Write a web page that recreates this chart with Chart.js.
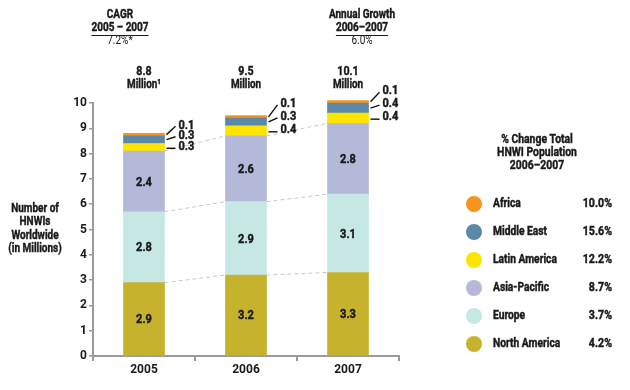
<!DOCTYPE html>
<html>
<head>
<meta charset="utf-8">
<script src="https://cdn.jsdelivr.net/npm/chart.js@4.4.0/dist/chart.umd.min.js"></script>
<style>
  html, body { margin: 0; padding: 0; background: #fff; }
  #wrap { width: 630px; height: 390px; position: relative; }
</style>
</head>
<body>
<div id="wrap"><canvas id="hnwiChart" width="630" height="390"></canvas></div>
<script>
// Data
const years = ['2005', '2006', '2007'];
const northAmerica = [2.9, 3.2, 3.3];
const europe = [2.8, 2.9, 3.1];
const asiaPacific = [2.4, 2.6, 2.8];
const latinAmerica = [0.3, 0.4, 0.4];
const middleEast = [0.3, 0.3, 0.4];
const africa = [0.1, 0.1, 0.1];
const totals = ['8.8', '9.5', '10.1'];
const totalUnits = ['Million\u00B9', 'Million', 'Million'];
const yTicks = [0, 1, 2, 3, 4, 5, 6, 7, 8, 9, 10];

// legend (top to bottom) and % change 2006-2007
const legendRegions = ['Africa', 'Middle East', 'Latin America', 'Asia-Pacific', 'Europe', 'North America'];
const legendChange = ['10.0%', '15.6%', '12.2%', '8.7%', '3.7%', '4.2%'];

const FONT = 'Roboto, "DejaVu Sans", sans-serif';
const TXT = '#1a1a1a';

const colors = {
    'North America': '#C6B22D',
    'Europe': '#C6E8E4',
    'Asia-Pacific': '#B4B9DA',
    'Latin America': '#FFE400',
    'Middle East': '#5B88A6',
    'Africa': '#F7941E'
};

const seriesList = [
    ['North America', northAmerica],
    ['Europe', europe],
    ['Asia-Pacific', asiaPacific],
    ['Latin America', latinAmerica],
    ['Middle East', middleEast],
    ['Africa', africa]
];

// the original uses a heavy condensed face: squeeze roboto and thicken it a bit
function heavyText(c, t, x, y, size, k, bold = true) {
    c.save();
    c.font = (bold ? 'bold ' : '') + size + 'px ' + FONT;
    c.translate(x, y);
    c.scale(k, 1);
    c.fillText(t, 0, 0);
    if (bold) {
        c.lineWidth = 0.45;
        c.strokeStyle = c.fillStyle;
        c.strokeText(t, 0, 0);
    }
    const w = c.measureText(t).width * k;
    c.restore();
    return w;
}

// Draws all the annotation text, leader lines, connectors and the legend
const annotations = {
    id: 'annotations',
    afterDatasetsDraw(chart) {
        const c = chart.ctx;
        const metas = seriesList.map((s, i) => chart.getDatasetMeta(i));
        c.save();

        // dashed connectors between bars (tops of NA, Europe, Asia-Pacific)
        c.strokeStyle = '#c8c8c8';
        c.lineWidth = 1;
        c.setLineDash([4, 3]);
        for (let d = 0; d < 3; d++) {
            for (let i = 0; i < years.length - 1; i++) {
                const a = metas[d].data[i], b = metas[d].data[i + 1];
                c.beginPath();
                c.moveTo(a.x + a.width / 2, a.y);
                c.lineTo(b.x - b.width / 2, b.y);
                c.stroke();
            }
        }
        c.setLineDash([]);

        // values inside the big segments
        c.fillStyle = TXT;
        c.textAlign = 'center';
        c.textBaseline = 'middle';
        for (let d = 0; d < 3; d++) {
            metas[d].data.forEach((el, i) => {
                heavyText(c, seriesList[d][1][i].toFixed(1), el.x, (el.y + el.base) / 2 + 1, 13, 0.85);
            });
        }

        // small segment labels with leader lines
        const gaps = [10.5, 13, 13];
        c.textAlign = 'left';
        years.forEach((y, i) => {
            const la = metas[3].data[i];
            const baseY = (la.y + la.base) / 2 - 1;
            for (let k = 0; k < 3; k++) {
                const el = metas[3 + k].data[i];
                const segY = (el.y + el.base) / 2;
                const labY = baseY - k * gaps[i];
                const x0 = el.x + el.width / 2 + 2;
                c.strokeStyle = '#111';
                c.lineWidth = 1.4;
                c.beginPath();
                c.moveTo(x0, k === 0 ? labY + 2 : segY);
                c.lineTo(x0 + 9, k === 0 ? labY + 2 : labY + 1);
                c.stroke();
                heavyText(c, seriesList[3 + k][1][i].toFixed(1), x0 + 12, labY, 13, 0.85);
            }
        });

        // totals above bars
        c.textAlign = 'center';
        metas[0].data.forEach((el, i) => {
            heavyText(c, totals[i], el.x, 72, 13, 0.82);
            heavyText(c, totalUnits[i], el.x, 85, 13, 0.76);
        });

        // header texts
        const header = (x, lines) => {
            lines.forEach((t, j) => {
                const yy = 15 + j * 13;
                const w = heavyText(c, t, x, yy, 12.5, 0.8, j !== 2);
                if (j === 1) {
                    c.beginPath();
                    c.strokeStyle = TXT;
                    c.lineWidth = 1;
                    c.moveTo(x - w / 2, yy + 7.5);
                    c.lineTo(x + w / 2, yy + 7.5);
                    c.stroke();
                }
            });
        };
        header(120, ['CAGR', '2005 \u2013 2007', '7.2%*']);
        header(362, ['Annual Growth', '2006\u20132007', '6.0%']);

        // y axis title
        ['Number of', 'HNWIs', 'Worldwide', '(in Millions)'].forEach((t, j) => {
            heavyText(c, t, 35, 209 + j * 13.3, 12.5, 0.8);
        });

        // legend
        ['% Change Total', 'HNWI Population', '2006\u20132007'].forEach((t, j) => {
            heavyText(c, t, 537, 140 + j * 13, 13, 0.8);
        });
        legendRegions.forEach((r, j) => {
            const yy = 204 + j * 28;
            c.fillStyle = colors[r];
            c.beginPath();
            c.arc(474, yy, 8, 0, Math.PI * 2);
            c.fill();
            c.fillStyle = TXT;
            c.textAlign = 'left';
            heavyText(c, r, 493, yy, 12.5, 0.82);
            c.textAlign = 'right';
            heavyText(c, legendChange[j], 612, yy, 12.5, 0.85);
            c.textAlign = 'center';
        });

        c.restore();
    }
};

new Chart(document.getElementById('hnwiChart'), {
    type: 'bar',
    data: {
        labels: years,
        datasets: seriesList.map(([name, values]) => ({
            label: name,
            data: values,
            backgroundColor: colors[name],
            borderWidth: 0,
            barThickness: 41,
            clip: false
        }))
    },
    options: {
        responsive: false,
        animation: false,
        devicePixelRatio: 1,
        layout: { padding: { left: 63, right: 231, top: 103, bottom: 4 } },
        scales: {
            x: {
                stacked: true,
                afterFit: s => { s.height = 30; },
                border: { color: '#9a9a9a', width: 2 },
                grid: { drawOnChartArea: false, tickLength: 5, color: '#9a9a9a', lineWidth: 2 },
                ticks: { color: TXT, font: { family: FONT, size: 12, weight: 'bold' }, padding: 2 }
            },
            y: {
                stacked: true,
                min: 0,
                max: 10,
                afterFit: s => { s.width = 30; },
                afterBuildTicks: s => { s.ticks = yTicks.map(v => ({ value: v })); },
                border: { color: '#9a9a9a', width: 2 },
                grid: { drawOnChartArea: false, tickLength: 4, color: '#9a9a9a', lineWidth: 1.5 },
                ticks: { color: TXT, font: { family: FONT, size: 12, weight: 'bold' }, padding: 2 }
            }
        },
        plugins: {
            legend: { display: false },
            tooltip: { enabled: false }
        },
        elements: { bar: { borderSkipped: false } }
    },
    plugins: [annotations]
});
</script>
</body>
</html>
